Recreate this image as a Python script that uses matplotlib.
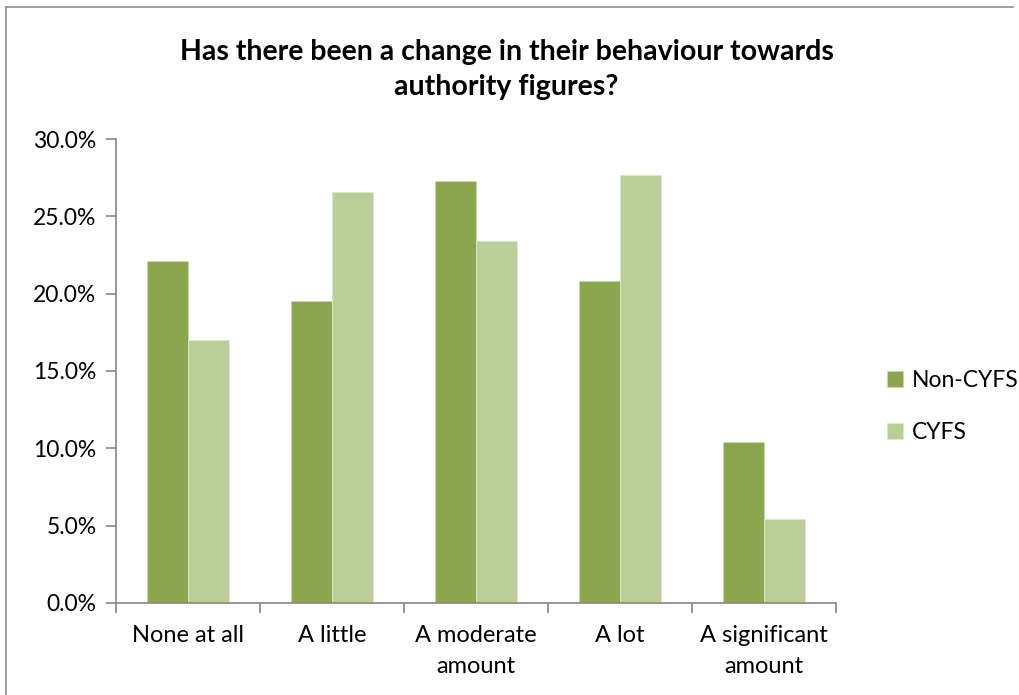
import matplotlib
matplotlib.use('Agg')
from matplotlib import pyplot as plt
from matplotlib.lines import Line2D
import numpy as np

categories = ['None at all', 'A little', 'A moderate\namount', 'A lot',
              'A significant\namount']
non_cyfs = [22.1, 19.5, 27.3, 20.8, 10.4]
cyfs = [17.0, 26.6, 23.4, 27.7, 5.4]
series_names = ['Non-CYFS', 'CYFS']
yticks = [0, 5, 10, 15, 20, 25, 30]

dark = '#8aa64f'
light = '#bacf97'
axis_grey = '#868686'

plt.rcParams['font.family'] = ['Lato', 'DejaVu Sans']

fig = plt.figure(figsize=(10.19, 6.95), dpi=100)
ax = fig.add_axes([0.1138, 0.1324, 0.7066, 0.6676])

x = np.arange(len(categories))
w = 0.285
ax.bar(x - w / 2, non_cyfs, w, color=dark, edgecolor='#c9d9ae', linewidth=0.6,
       label=series_names[0])
ax.bar(x + w / 2, cyfs, w, color=light, edgecolor='#dce7c9', linewidth=0.6,
       label=series_names[1])

ax.set_xlim(-0.5, len(categories) - 0.5)
ax.set_ylim(0, 30)
ax.set_yticks(yticks)
ax.set_yticklabels([f'{v:.1f}%' for v in yticks], fontsize=16.5)
ax.set_xticks(x)
ax.set_xticklabels(categories, fontsize=17, linespacing=1.55)
ax.set_xticks(np.arange(-0.5, len(categories)), minor=True)
ax.tick_params(axis='x', which='major', length=0, pad=16)
ax.tick_params(axis='x', which='minor', length=7, width=1.2, color=axis_grey,
               direction='out')
ax.tick_params(axis='y', length=7, width=1.2, color=axis_grey, pad=7)

for s in ['top', 'right']:
    ax.spines[s].set_visible(False)
for s in ['left', 'bottom']:
    ax.spines[s].set_color(axis_grey)
    ax.spines[s].set_linewidth(1.2)

fig.text(0.497, 0.900, 'Has there been a change in their behaviour towards\nauthority figures?',
         ha='center', va='center', fontsize=20.5, fontweight='bold',
         linespacing=1.45)

fig.legend(loc='center left', bbox_to_anchor=(0.85, 0.415), frameon=False,
           fontsize=16.5, handlelength=0.7, handleheight=0.7,
           handletextpad=0.4, labelspacing=1.35)

# outer chart frame (only top and left visible in the crop)
fig.add_artist(Line2D([6 / 1019, 6 / 1019], [0, 1 - 7 / 695],
                      transform=fig.transFigure, color='#8c8c8c', lw=1.2))
fig.add_artist(Line2D([6 / 1019, 1013 / 1019], [1 - 7 / 695, 1 - 7 / 695],
                      transform=fig.transFigure, color='#8c8c8c', lw=1.2))

fig.savefig('out.png', dpi=100)
